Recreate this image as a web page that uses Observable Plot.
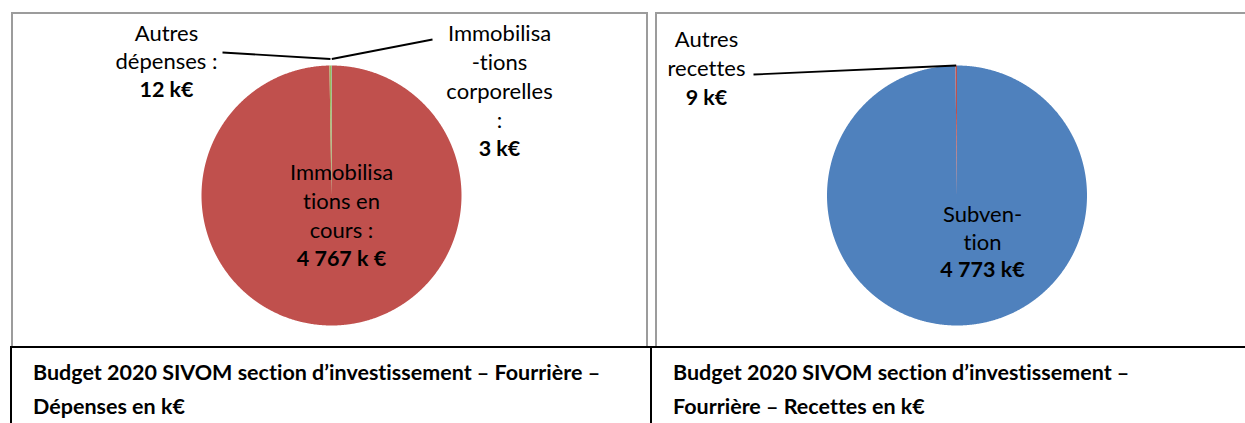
<!DOCTYPE html>
<html>
<head>
<meta charset="utf-8">
<script src="https://cdn.jsdelivr.net/npm/d3@7"></script>
<script src="https://cdn.jsdelivr.net/npm/@observablehq/plot@0.6"></script>
<style>
  html, body { margin: 0; padding: 0; background: #fff; }
  body { width: 1245px; height: 423px; position: relative; overflow: hidden; font-family: Lato, "Open Sans", sans-serif; font-variant-ligatures: none; }
  svg text { font-variant-ligatures: none; }
  .gbox { position: absolute; border: 2px solid #9c9c9c; box-sizing: border-box; }
  .bline { position: absolute; background: #000; }
  .title { position: absolute; font-weight: bold; font-size: 21.5px; line-height: 34px; color: #000; white-space: nowrap; }
  .chart { position: absolute; top: 0; }
</style>
</head>
<body>
<div class="gbox" style="left:11px; top:12px; width:637px; height:336px;"></div>
<div class="gbox" style="left:655px; top:12px; width:600px; height:336px;"></div>
<div class="bline" style="left:10px; top:346px; width:1235px; height:2px;"></div>
<div class="bline" style="left:10px; top:346px; width:2px; height:77px;"></div>
<div class="bline" style="left:650px; top:346px; width:2px; height:77px;"></div>
<div id="left" class="chart" style="left:0px;"></div>
<div id="right" class="chart" style="left:650px;"></div>
<div id="t1" class="title" style="left:33px; top:355px;"></div>
<div id="t2" class="title" style="left:673px; top:355px;"></div>
<script>
// ---- Data ----
const depCategories = ["Immobilisations corporelles", "Immobilisations en cours", "Autres dépenses"];
const depValues = [3, 4767, 12];
const depNames = ["Immobilisa\n-tions\ncorporelles\n:", "Immobilisa\ntions en\ncours :", "Autres\ndépenses :"];
const depValueLabels = ["3 k€", "4 767 k €", "12 k€"];

const recCategories = ["Subvention", "Autres recettes"];
const recValues = [4773, 9];
const recNames = ["Subven-\ntion", "Autres\nrecettes"];
const recValueLabels = ["4 773 k€", "9 k€"];

const titles = [
  "Budget 2020 SIVOM section d’investissement – Fourrière –\nDépenses en k€",
  "Budget 2020 SIVOM section d’investissement –\nFourrière – Recettes en k€"
];

// ---- Styles / layout ----
const depColors = ["#4F81BD", "#C0504D", "#9BBB59"];
const recColors = ["#4F81BD", "#C0504D"];
const labelSize = 22;

const leftLayout = {
  x0: 0, width: 650, height: 346, cx: 331, cy: 195, r: 130,
  labels: [
    {x: 499, y: 33, lh: 29, leader: [432, 39], rf: 1.05},
    {x: 341, y: 172, lh: 29, leader: null},
    {x: 166, y: 33, lh: 28.5, leader: [222, 52], rf: 1.05}
  ]
};
const rightLayout = {
  x0: 650, width: 595, height: 346, cx: 956.5, cy: 195, r: 130,
  labels: [
    {x: 982, y: 214, lh: 28, leader: null},
    {x: 706, y: 39, lh: 29.5, leader: [753, 74], rf: 1.0}
  ]
};

function pieChart(categories, values, names, valueLabels, colors, L) {
  const arcs = d3.pie().sort(null).value(d => d)(values);
  const pt = (a, rr) => [L.cx + rr * Math.sin(a), L.cy - rr * Math.cos(a)];
  const poly = [];
  arcs.forEach((a, i) => {
    const n = Math.max(2, Math.ceil((a.endAngle - a.startAngle) / 0.005));
    const c = pt(0, 0);
    poly.push({key: categories[i], x: c[0], y: c[1]});
    for (let k = 0; k <= n; k++) {
      const ang = a.startAngle + (a.endAngle - a.startAngle) * k / n;
      const p = pt(ang, L.r);
      poly.push({key: categories[i], x: p[0], y: p[1]});
    }
  });
  const nameRows = [], valueRows = [], links = [];
  names.forEach((t, i) => {
    const lay = L.labels[i];
    const lines = t.split("\n");
    lines.forEach((s, j) => nameRows.push({s, x: lay.x, y: lay.y + j * lay.lh}));
    valueRows.push({s: valueLabels[i], x: lay.x, y: lay.y + lines.length * lay.lh});
    if (lay.leader) {
      const mid = (arcs[i].startAngle + arcs[i].endAngle) / 2;
      const p = pt(mid, L.r * lay.rf);
      links.push({x1: lay.leader[0], y1: lay.leader[1], x2: p[0], y2: p[1]});
    }
  });
  return Plot.plot({
    width: L.width, height: L.height, margin: 0,
    x: {domain: [L.x0, L.x0 + L.width], range: [0, L.width], axis: null},
    y: {domain: [0, L.height], range: [0, L.height], axis: null},
    color: {domain: categories, range: colors},
    style: {background: "transparent", overflow: "visible"},
    marks: [
      Plot.line(poly, {x: "x", y: "y", z: "key", fill: "key", stroke: "none", curve: "linear-closed"}),
      Plot.link(links, {x1: "x1", y1: "y1", x2: "x2", y2: "y2", stroke: "#000", strokeWidth: 1.8}),
      Plot.text(nameRows, {x: "x", y: "y", text: "s", fill: "#000", fontSize: labelSize, fontFamily: "Lato", textAnchor: "middle", lineAnchor: "middle"}),
      Plot.text(valueRows, {x: "x", y: "y", text: "s", fill: "#000", fontSize: labelSize - 0.5, fontFamily: "Lato", fontWeight: "bold", textAnchor: "middle", lineAnchor: "middle"})
    ]
  });
}

document.getElementById("left").append(pieChart(depCategories, depValues, depNames, depValueLabels, depColors, leftLayout));
document.getElementById("right").append(pieChart(recCategories, recValues, recNames, recValueLabels, recColors, rightLayout));
document.getElementById("t1").innerHTML = titles[0].replace("\n", "<br>");
document.getElementById("t2").innerHTML = titles[1].replace("\n", "<br>");
</script>
</body>
</html>
